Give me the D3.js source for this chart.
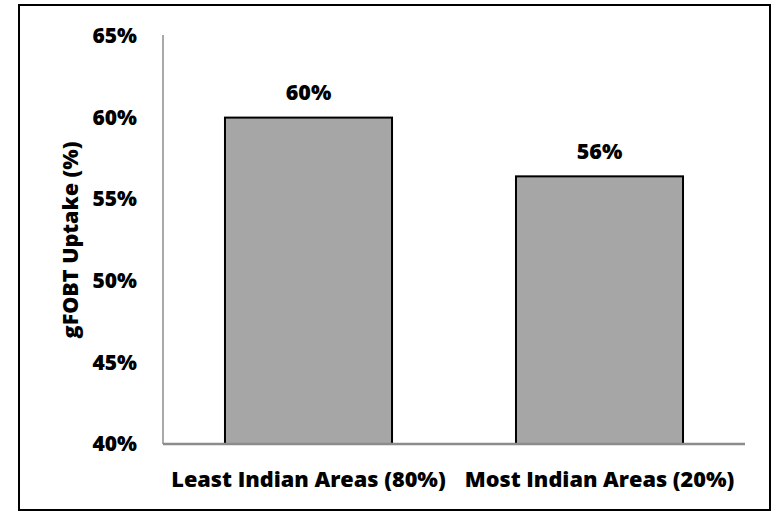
<!DOCTYPE html>
<html>
<head>
<meta charset="utf-8">
<script src="https://cdn.jsdelivr.net/npm/d3@7"></script>
<style>
  html, body { margin: 0; padding: 0; background: #fff; }
  svg { display: block; }
  text { font-family: "Open Sans", "DejaVu Sans", sans-serif; font-weight: 800; fill: #000; }
</style>
</head>
<body>
<svg id="chart" width="776" height="511"></svg>
<script>
// Screening uptake by area group
const categories = ["Least Indian Areas (80%)", "Most Indian Areas (20%)"];
const uptake = [0.600, 0.564];
const yTicks = [0.40, 0.45, 0.50, 0.55, 0.60, 0.65];
const yTitle = "gFOBT Uptake (%)";

const svg = d3.select("#chart");

// outer frame
svg.append("rect")
  .attr("x", 19).attr("y", 5)
  .attr("width", 751).attr("height", 505)
  .attr("fill", "#fff")
  .attr("stroke", "#000").attr("stroke-width", 2);

const plot = { left: 163, right: 745, top: 36, bottom: 444 };

const x = d3.scaleBand()
  .domain(categories)
  .range([plot.left, plot.right])
  .paddingInner(0.426)
  .paddingOuter(0.213);

const y = d3.scaleLinear()
  .domain([0.40, 0.65])
  .range([plot.bottom, plot.top]);

const pct = d3.format(".0%");

// bars
svg.append("g").selectAll("rect")
  .data(categories)
  .join("rect")
  .attr("x", d => x(d))
  .attr("y", (d, i) => y(uptake[i]))
  .attr("width", x.bandwidth())
  .attr("height", (d, i) => y(0.40) - y(uptake[i]))
  .attr("fill", "#a6a6a6")
  .attr("stroke", "#000")
  .attr("stroke-width", 2);

// value labels
svg.append("g").selectAll("text")
  .data(categories)
  .join("text")
  .attr("x", d => x(d) + x.bandwidth() / 2)
  .attr("y", (d, i) => y(uptake[i]) - 17.5)
  .attr("text-anchor", "middle")
  .attr("font-size", 21.5)
  .text((d, i) => pct(uptake[i]));

// y axis
const yAxis = d3.axisLeft(y)
  .tickValues(yTicks)
  .tickFormat(pct)
  .tickSize(0)
  .tickPadding(26);

const gy = svg.append("g")
  .attr("transform", `translate(${plot.left},0)`)
  .call(yAxis);
gy.select(".domain").attr("stroke", "#8c8c8c").attr("stroke-width", 1.5)
  .attr("d", `M0,${plot.top - 1}V${plot.bottom}`);
gy.selectAll("text")
  .attr("font-size", 21)
  .attr("font-family", null)
  .attr("fill", "#000");

// x axis
const xAxis = d3.axisBottom(x).tickSize(0).tickPadding(28);
const gx = svg.append("g")
  .attr("transform", `translate(0,${plot.bottom})`)
  .call(xAxis);
gx.select(".domain").attr("stroke", "#8c8c8c").attr("stroke-width", 2.5)
  .attr("d", `M${plot.left},0H${plot.right}`);
gx.selectAll("text")
  .attr("font-size", 21.7)
  .attr("font-family", null)
  .attr("fill", "#000");

// y axis title
svg.append("text")
  .attr("transform", `translate(78,${(plot.top + plot.bottom) / 2}) rotate(-90)`)
  .attr("text-anchor", "middle")
  .attr("font-size", 21.5)
  .text(yTitle);
</script>
</body>
</html>
